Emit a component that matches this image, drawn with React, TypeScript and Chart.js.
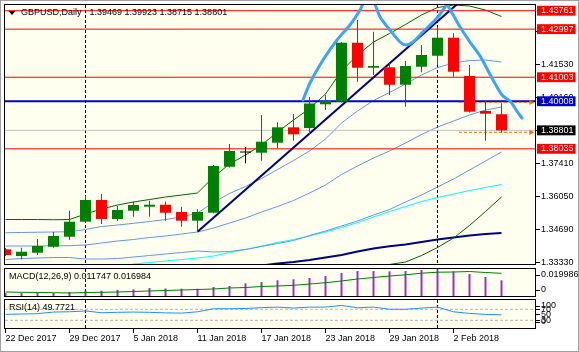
import React, { useEffect, useRef } from 'react';
import { Chart, registerables } from 'chart.js';

Chart.register(...registerables);

const FONT = "'Liberation Sans', Arial, sans-serif";
Chart.defaults.font.family = FONT;
Chart.defaults.font.size = 9;

// ---------- data ----------
const categories = ['22 Dec 2017', '26 Dec 2017', '27 Dec 2017', '28 Dec 2017', '29 Dec 2017', '2 Jan 2018', '3 Jan 2018', '4 Jan 2018', '5 Jan 2018', '8 Jan 2018', '9 Jan 2018', '10 Jan 2018', '11 Jan 2018', '12 Jan 2018', '15 Jan 2018', '16 Jan 2018', '17 Jan 2018', '18 Jan 2018', '19 Jan 2018', '22 Jan 2018', '23 Jan 2018', '24 Jan 2018', '25 Jan 2018', '26 Jan 2018', '29 Jan 2018', '30 Jan 2018', '31 Jan 2018', '1 Feb 2018', '2 Feb 2018', '5 Feb 2018', '6 Feb 2018', '7 Feb 2018'];

const open = [1.33869, 1.33591, 1.33728, 1.33977, 1.34391, 1.35013, 1.35913, 1.35125, 1.35469, 1.35635, 1.35718, 1.35415, 1.35055, 1.35386, 1.37293, 1.37882, 1.37874, 1.38288, 1.38927, 1.38898, 1.39881, 1.39988, 1.42434, 1.41398, 1.41415, 1.40693, 1.41439, 1.41895, 1.42642, 1.41054, 1.39603, 1.39469];
const high = [1.33923, 1.33935, 1.34296, 1.34586, 1.35469, 1.36079, 1.36162, 1.35664, 1.35842, 1.35884, 1.35842, 1.35635, 1.35527, 1.37364, 1.38235, 1.38110, 1.39437, 1.39134, 1.39478, 1.40183, 1.40266, 1.42463, 1.43376, 1.42890, 1.41580, 1.41676, 1.42339, 1.43098, 1.42824, 1.41510, 1.40030, 1.39923];
const low = [1.33591, 1.33454, 1.33633, 1.33935, 1.34255, 1.34959, 1.34918, 1.35042, 1.35221, 1.35221, 1.35055, 1.34806, 1.34599, 1.35361, 1.37260, 1.37434, 1.37542, 1.38056, 1.38371, 1.38608, 1.39644, 1.39955, 1.40817, 1.41095, 1.40266, 1.39781, 1.41207, 1.41510, 1.41025, 1.39541, 1.38371, 1.38715];
const close = [1.33633, 1.33769, 1.34006, 1.34420, 1.35013, 1.35913, 1.35125, 1.35498, 1.35706, 1.35718, 1.35386, 1.35055, 1.35415, 1.37322, 1.37944, 1.37882, 1.38330, 1.38927, 1.38637, 1.39914, 1.40017, 1.42434, 1.41398, 1.41468, 1.40693, 1.41468, 1.41924, 1.42642, 1.41232, 1.39574, 1.39491, 1.38801];

const bbUpper2 = [1.35104, 1.35104, 1.35104, 1.35096, 1.35104, 1.35333, 1.35540, 1.35706, 1.35830, 1.35934, 1.36037, 1.36120, 1.36203, 1.36866, 1.37405, 1.37779, 1.38193, 1.38732, 1.39230, 1.39706, 1.40308, 1.41261, 1.41924, 1.42463, 1.42816, 1.43189, 1.43583, 1.43894, 1.43997, 1.43956, 1.43790, 1.43521];
const bbUpper1 = [1.34557, 1.34565, 1.34578, 1.34586, 1.34599, 1.34690, 1.34814, 1.34876, 1.34947, 1.35021, 1.35104, 1.35208, 1.35374, 1.35809, 1.36182, 1.36473, 1.36804, 1.37177, 1.37550, 1.37944, 1.38442, 1.39105, 1.39603, 1.40038, 1.40370, 1.40722, 1.41095, 1.41406, 1.41593, 1.41696, 1.41717, 1.41634];
const bbMiddle = [1.34006, 1.34006, 1.34006, 1.34014, 1.34018, 1.34047, 1.34130, 1.34213, 1.34275, 1.34358, 1.34420, 1.34503, 1.34586, 1.34752, 1.34959, 1.35167, 1.35415, 1.35643, 1.35892, 1.36203, 1.36535, 1.36970, 1.37323, 1.37654, 1.37944, 1.38276, 1.38629, 1.38939, 1.39188, 1.39437, 1.39644, 1.39769];
const bbLower1 = [1.33446, 1.33488, 1.33508, 1.33529, 1.33529, 1.33467, 1.33467, 1.33488, 1.33550, 1.33612, 1.33674, 1.33736, 1.33799, 1.33757, 1.33778, 1.33861, 1.33985, 1.34109, 1.34234, 1.34441, 1.34628, 1.34835, 1.35042, 1.35291, 1.35519, 1.35830, 1.36120, 1.36452, 1.36784, 1.37157, 1.37530, 1.37903];
const bbLower2 = [1.32907, 1.32886, 1.32866, 1.32866, 1.32866, 1.32845, 1.32783, 1.32721, 1.32721, 1.32741, 1.32741, 1.32783, 1.32804, 1.32638, 1.32513, 1.32555, 1.32638, 1.32555, 1.32555, 1.32721, 1.32762, 1.32679, 1.32762, 1.32845, 1.33239, 1.33342, 1.33612, 1.33944, 1.34337, 1.34856, 1.35436, 1.36037];
const maCyan = [1.32928, 1.32949, 1.32969, 1.32990, 1.33011, 1.33052, 1.33094, 1.33156, 1.33260, 1.33322, 1.33384, 1.33446, 1.33508, 1.33591, 1.33736, 1.33861, 1.34006, 1.34151, 1.34275, 1.34420, 1.34586, 1.34773, 1.34980, 1.35208, 1.35436, 1.35643, 1.35851, 1.36017, 1.36162, 1.36307, 1.36431, 1.36556];
const maNavy = [1.32804, 1.32824, 1.32845, 1.32866, 1.32886, 1.32907, 1.32928, 1.32949, 1.32969, 1.32990, 1.33011, 1.33032, 1.33052, 1.33073, 1.33094, 1.33135, 1.33197, 1.33280, 1.33342, 1.33425, 1.33529, 1.33633, 1.33778, 1.33902, 1.33993, 1.34068, 1.34172, 1.34275, 1.34358, 1.34441, 1.34503, 1.34545];

const macdMain = [0.00225, 0.00225, 0.00225, 0.00225, 0.00299, 0.00412, 0.00397, 0.00464, 0.00501, 0.00599, 0.00561, 0.00546, 0.00546, 0.00674, 0.00749, 0.00951, 0.01048, 0.01175, 0.01250, 0.01347, 0.01497, 0.01722, 0.01871, 0.01871, 0.01849, 0.01871, 0.01946, 0.019986, 0.01849, 0.01647, 0.01422, 0.011747];
const macdSignal = [0.00299, 0.00277, 0.00262, 0.00247, 0.00225, 0.00262, 0.00277, 0.00299, 0.00337, 0.00374, 0.00412, 0.00449, 0.00487, 0.00524, 0.00599, 0.00636, 0.00711, 0.00749, 0.00801, 0.00898, 0.00996, 0.01123, 0.01272, 0.01385, 0.01497, 0.01587, 0.01707, 0.01781, 0.01796, 0.01834, 0.01759, 0.016984];
const rsi = [51.6, 53, 54, 60, 61, 64, 57.5, 59, 60, 59, 57, 56, 61, 72, 72, 73, 76, 78, 74.5, 78, 78, 84, 75.6, 78, 70, 70, 74.5, 78, 61, 55, 51.6, 49.7721];
const rsiLevels = [70, 30];

const priceTicks = [1.3333, 1.3469, 1.3605, 1.3741, 1.3879, 1.4016, 1.4153, 1.4289];
const levelValues = [1.43761, 1.42997, 1.41003, 1.40008, 1.38801, 1.38035];
const levelBoxColors = ['#FF0000', '#FF0000', '#FF0000', '#0000CD', '#000000', '#FF0000'];
const levelLineColors = ['#FF0000', '#FF0000', '#FF0000', '#0000CD', '#C0C0C0', '#FF0000'];
const levelLineWidths = [1, 1, 1, 2, 1, 1];
const macdTickValues = [0.019986, 0];
const macdTickLabels = ['0.019986', '0'];
const rsiTickValues = [100, 70, 50, 30, 0];
const rsiTickLabels = ['100', '70', '50', '30', '0'];

const separators = [5, 27];
const trendLine = [{ x: 12, y: 1.34599 }, { x: 29, y: 1.44483 }];
const drawX = [18.59, 19.03, 19.84, 20.72, 21.53, 22.16, 22.53, 22.91, 23.41, 24.03, 24.66, 25.03, 25.47, 26.09, 26.97, 27.34, 27.59, 27.91, 28.41, 29.03, 29.66, 30.47, 31.03, 31.59, 31.91, 32.28];
const drawY = [1.40059, 1.40764, 1.41717, 1.42546, 1.43168, 1.43790, 1.44288, 1.44288, 1.43500, 1.42961, 1.42463, 1.42339, 1.42463, 1.42878, 1.43458, 1.43790, 1.43997, 1.43666, 1.43085, 1.42463, 1.41883, 1.40888, 1.40266, 1.39976, 1.39644, 1.39313];
const arrowLevels = [1.39963, 1.38720];
const arrowFrom = 28.34;
const arrowTo = 32.84;

// ---------- layout constants ----------
const W = 579, H = 352, AXIS_W = 44;
const X_MIN = -0.03125, X_MAX = 33.09375;
const CREAM = '#FFFFF0';
const last = close.length - 1;

const panelPlugin = {
  id: 'panel',
  beforeDraw(chart: any, _a: any, opts: any) {
    const { ctx, chartArea: a } = chart;
    ctx.save();
    if (opts.page) {
      ctx.fillStyle = '#FFFFFF';
      ctx.fillRect(0, 0, chart.width, chart.height);
      ctx.strokeStyle = '#A0A0A0';
      ctx.lineWidth = 1;
      ctx.strokeRect(0.5, 0.5, chart.width - 1, chart.height - 1);
    }
    ctx.fillStyle = CREAM;
    ctx.fillRect(a.left, a.top, a.right - a.left, a.bottom - a.top);
    ctx.restore();
  },
  beforeDatasetsDraw(chart: any) {
    const { ctx, chartArea: a, scales } = chart;
    ctx.save();
    ctx.strokeStyle = '#000';
    ctx.lineWidth = 1;
    ctx.setLineDash([3, 2]);
    separators.forEach((i) => {
      const px = Math.round(scales.x.getPixelForValue(i) - 0.5) + 0.5;
      ctx.beginPath();
      ctx.moveTo(px, a.top);
      ctx.lineTo(px, a.bottom);
      ctx.stroke();
    });
    ctx.restore();
  },
  afterDraw(chart: any, _a: any, opts: any) {
    const { ctx, chartArea: a } = chart;
    ctx.save();
    ctx.strokeStyle = '#000';
    ctx.lineWidth = 1;
    ctx.setLineDash([]);
    ctx.strokeRect(a.left - 0.5, a.top - 0.5, a.right - a.left + 1, a.bottom - a.top + 1);
    ctx.font = `9px ${FONT}`;
    ctx.fillStyle = '#000';
    ctx.textBaseline = 'middle';
    const y = a.top + 8;
    let x = a.left + (opts.marker ? 16 : 4);
    if (opts.marker) {
      ctx.beginPath();
      ctx.moveTo(a.left + 3.5, y - 2);
      ctx.lineTo(a.left + 10.5, y - 2);
      ctx.lineTo(a.left + 7, y + 2);
      ctx.closePath();
      ctx.fill();
    }
    (opts.texts || []).forEach((t: string) => {
      ctx.fillText(t, x, y);
      x += ctx.measureText(t).width + 8;
    });
    ctx.restore();
  },
};

const series = (arr: number[]) => arr.map((y, x) => ({ x, y }));
const line = (data: any[], color: string, width: number, order: number, extra: any = {}) => ({
  type: 'line', data, borderColor: color, borderWidth: width, pointRadius: 0, pointHoverRadius: 0,
  tension: 0, order, clip: 0, fill: false, ...extra,
});

const xAxis = (display: boolean) => ({
  type: 'linear', min: X_MIN, max: X_MAX, offset: false, display,
  grid: { display: true, offset: false, drawOnChartArea: false, drawTicks: true, tickLength: 5, tickColor: '#000' },
  border: { display: false },
  ticks: {
    autoSkip: false, maxRotation: 0, minRotation: 0, align: 'start', padding: 0, color: '#000',
    font: { family: FONT, size: 9 },
    callback: (v: number) => categories[Math.round(v)] ?? '',
  },
  afterBuildTicks: (s: any) => {
    s.ticks = categories.map((_, i) => i).filter((i) => i % 4 === 0).map((value) => ({ value }));
  },
  afterFit: (s: any) => {
    if (display) { s.height = 24; s.paddingLeft = 0; s.paddingRight = 0; }
  },
});

const yBase = (min: number, max: number) => ({
  type: 'linear', position: 'right', min, max,
  grid: { display: true, drawOnChartArea: false, drawTicks: true, tickLength: 5, tickColor: '#000' },
  border: { display: false },
  afterFit: (s: any) => { s.width = AXIS_W; s.paddingTop = 0; s.paddingBottom = 0; },
});

const clampedTicks = (values: number[]) => (s: any) => {
  const pad = (6 * (s.max - s.min)) / (s.height || 1);
  s.ticks = values.map((v) => ({ value: Math.min(s.max - pad, Math.max(s.min + pad, v)) }));
};

const baseOptions = (padding: any, scales: any, panel: any) => ({
  responsive: false, animation: false, devicePixelRatio: 1, events: [],
  layout: { padding },
  plugins: { legend: { display: false }, tooltip: { enabled: false }, panel },
  scales,
});

function mainConfig(): any {
  const NP = priceTicks.length;
  const colors = open.map((o, i) => (close[i] > o ? '#008000' : close[i] < o ? '#FF0000' : '#000000'));
  const idx = open.map((_, i) => i);
  const datasets: any[] = [
    line(series(bbUpper2), '#006400', 1, 100),
    line(series(bbLower2), '#006400', 1, 100),
    line(series(bbUpper1), '#6495ED', 1, 100),
    line(series(bbMiddle), '#6495ED', 1, 100),
    line(series(bbLower1), '#6495ED', 1, 100),
    line(series(maCyan), '#00FFFF', 1, 100),
    line(series(maNavy), '#000080', 2, 100),
    ...levelValues.map((v, i) => line([{ x: X_MIN, y: v }, { x: X_MAX, y: v }], levelLineColors[i], levelLineWidths[i], 80)),
    ...arrowLevels.map((v) => line([{ x: arrowFrom, y: v }, { x: arrowTo, y: v }], '#FF6600', 1, 70, {
      borderDash: [3, 2], pointRadius: [0, 3], pointStyle: 'triangle', pointRotation: 90,
      pointBackgroundColor: '#FF6600', pointBorderWidth: 0,
    })),
    line(trendLine, '#000080', 2, 60),
    line(drawX.map((x, i) => ({ x, y: drawY[i] })), '#3DA5F5', 3, 50, { tension: 0.25, borderCapStyle: 'round', borderJoinStyle: 'round' }),
    {
      type: 'bar', data: idx.map((i) => ({ x: i, y: [low[i], high[i]] })), backgroundColor: colors,
      barThickness: 1, grouped: false, inflateAmount: 0, borderWidth: 0, order: 20, clip: 0,
    },
    {
      type: 'bar', data: idx.map((i) => ({ x: i, y: [open[i], close[i]] })), backgroundColor: colors,
      barThickness: 11, minBarLength: 1, grouped: false, inflateAmount: 0, borderWidth: 0, order: 10, clip: 0,
    },
  ];
  const y: any = {
    ...yBase(1.3326, 1.43998),
    afterBuildTicks: (s: any) => { s.ticks = [...priceTicks, ...levelValues].map((value) => ({ value })); },
    ticks: {
      autoSkip: false, padding: 1,
      font: { family: FONT, size: 9, lineHeight: 1.1 },
      color: (c: any) => (c.index >= NP ? '#FFFFFF' : '#000000'),
      showLabelBackdrop: (c: any) => c.index >= NP,
      backdropColor: (c: any) => (c.index >= NP ? levelBoxColors[c.index - NP] : 'rgba(0,0,0,0)'),
      backdropPadding: { left: 4, right: 2, top: 0, bottom: 0 },
      callback: (_v: number, i: number) => (i < NP ? priceTicks[i] : levelValues[i - NP]).toFixed(5),
    },
  };
  y.grid = { ...y.grid, tickColor: (c: any) => (c.index >= NP ? 'rgba(0,0,0,0)' : '#000') };
  return {
    type: 'line',
    data: { datasets },
    options: baseOptions({ left: 5, top: 5, right: 0, bottom: 88 }, { x: xAxis(false), y }, {
      page: true, marker: true,
      texts: ['GBPUSD,Daily', [open[last], high[last], low[last], close[last]].map((v) => v.toFixed(5)).join(' ')],
    }),
    plugins: [panelPlugin],
  };
}

function macdConfig(): any {
  const datasets: any[] = [
    line(series(macdSignal), '#008000', 1, 10),
    {
      type: 'bar', data: series(macdMain), backgroundColor: '#9932CC', barThickness: 2,
      grouped: false, inflateAmount: 0, borderWidth: 0, order: 20, clip: 0,
    },
  ];
  const y: any = {
    ...yBase(0, 0.02021),
    afterBuildTicks: clampedTicks(macdTickValues),
    ticks: { autoSkip: false, padding: 1, color: '#000', font: { family: FONT, size: 9 }, callback: (_v: number, i: number) => macdTickLabels[i] },
  };
  return {
    type: 'line',
    data: { datasets },
    options: baseOptions({ left: 5, top: 269, right: 0, bottom: 56 }, { x: xAxis(false), y }, {
      texts: [`MACD(12,26,9) ${macdMain[last].toFixed(6)} ${macdSignal[last].toFixed(6)}`],
    }),
    plugins: [panelPlugin],
  };
}

function rsiConfig(): any {
  const datasets: any[] = [
    line(series(rsi), '#1E90FF', 1, 10),
    ...rsiLevels.map((v) => line([{ x: X_MIN, y: v }, { x: X_MAX, y: v }], '#B4B4B4', 1, 20, { borderDash: [3, 2] })),
  ];
  const y: any = {
    ...yBase(2, 103.8),
    afterBuildTicks: clampedTicks(rsiTickValues),
    ticks: { autoSkip: false, padding: 1, color: '#000', font: { family: FONT, size: 9 }, callback: (_v: number, i: number) => rsiTickLabels[i] },
  };
  return {
    type: 'line',
    data: { datasets },
    options: baseOptions({ left: 5, top: 300, right: 0, bottom: 0 }, { x: xAxis(true), y }, {
      texts: [`RSI(14) ${rsi[last].toFixed(4)}`],
    }),
    plugins: [panelPlugin],
  };
}

export default function App() {
  const r1 = useRef<HTMLCanvasElement>(null);
  const r2 = useRef<HTMLCanvasElement>(null);
  const r3 = useRef<HTMLCanvasElement>(null);
  useEffect(() => {
    document.body.style.margin = '0';
    const charts = [
      new Chart(r1.current as HTMLCanvasElement, mainConfig()),
      new Chart(r2.current as HTMLCanvasElement, macdConfig()),
      new Chart(r3.current as HTMLCanvasElement, rsiConfig()),
    ];
    return () => charts.forEach((c) => c.destroy());
  }, []);
  const st: React.CSSProperties = { position: 'absolute', left: 0, top: 0, width: W, height: H };
  return (
    <div style={{ position: 'relative', width: W, height: H, background: '#FFFFFF' }}>
      <canvas ref={r1} width={W} height={H} style={st} />
      <canvas ref={r2} width={W} height={H} style={st} />
      <canvas ref={r3} width={W} height={H} style={st} />
    </div>
  );
}
